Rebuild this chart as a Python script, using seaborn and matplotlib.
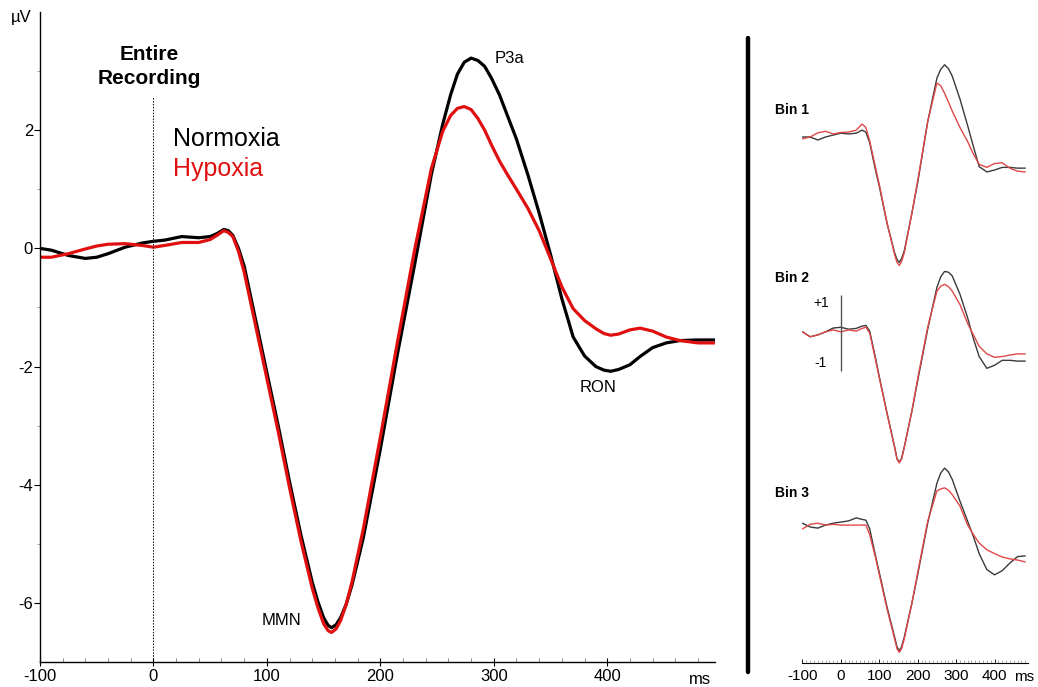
import matplotlib
matplotlib.use("Agg")
import matplotlib.pyplot as plt
from matplotlib.lines import Line2D
from matplotlib.ticker import MultipleLocator, FixedLocator
import seaborn as sns

# ---- main panel (entire recording), µV vs ms ----
t_main = [-100, -90, -75, -60, -50, -40, -25, -10, 0, 10, 25, 40, 50, 56, 62, 66, 70, 75,
          80, 90, 100, 110, 120, 130, 140, 145, 150, 154, 157, 161, 165, 170, 175, 185,
          200, 215, 230, 245, 255, 262, 268, 274, 280, 286, 292, 298, 305, 312, 320, 330,
          340, 350, 360, 370, 380, 390, 397, 403, 410, 420, 429, 440, 452, 464, 480, 495]
normoxia = [0.0, -0.03, -0.12, -0.17, -0.15, -0.09, 0.02, 0.09, 0.12, 0.14, 0.2, 0.18, 0.2,
            0.25, 0.32, 0.3, 0.22, 0.0, -0.3, -1.2, -2.1, -3.0, -3.95, -4.85, -5.65, -5.98,
            -6.25, -6.38, -6.42, -6.37, -6.25, -6.02, -5.7, -4.9, -3.4, -1.8, -0.3, 1.25,
            2.1, 2.6, 2.95, 3.15, 3.22, 3.18, 3.08, 2.88, 2.6, 2.25, 1.85, 1.25, 0.6, -0.1,
            -0.85, -1.5, -1.82, -2.0, -2.06, -2.08, -2.05, -1.97, -1.83, -1.68, -1.6, -1.56,
            -1.55, -1.55]
hypoxia = [-0.15, -0.15, -0.09, -0.01, 0.04, 0.07, 0.08, 0.05, 0.02, 0.05, 0.1, 0.1, 0.15,
           0.22, 0.3, 0.27, 0.2, -0.05, -0.4, -1.3, -2.2, -3.1, -4.05, -4.95, -5.75, -6.08,
           -6.35, -6.47, -6.5, -6.44, -6.3, -6.02, -5.65, -4.75, -3.2, -1.6, -0.05, 1.35,
           1.98, 2.25, 2.37, 2.4, 2.35, 2.2, 2.0, 1.75, 1.48, 1.25, 1.0, 0.68, 0.3, -0.17,
           -0.65, -1.02, -1.22, -1.36, -1.44, -1.47, -1.45, -1.38, -1.35, -1.4, -1.5, -1.56,
           -1.6, -1.6]

# ---- three time bins (small panels) ----
t_bin = [-100, -80, -60, -40, -20, 0, 20, 40, 55, 65, 75, 90, 100, 120, 140, 146, 152, 158,
         165, 185, 200, 226, 250, 260, 270, 280, 290, 310, 330, 345, 360, 380, 400, 420,
         440, 460, 480]
bin1_norm = [0.0, 0.0, -0.08, 0.0, 0.05, 0.1, 0.08, 0.1, 0.18, 0.13, -0.15, -0.87, -1.3,
             -2.27, -3.05, -3.22, -3.3, -3.2, -3.0, -2.0, -1.2, 0.4, 1.55, 1.78, 1.9, 1.8,
             1.6, 1.0, 0.3, -0.25, -0.78, -0.92, -0.87, -0.8, -0.8, -0.82, -0.82]
bin1_hyp = [-0.05, 0.0, 0.11, 0.15, 0.08, 0.12, 0.13, 0.18, 0.34, 0.25, -0.1, -0.8, -1.25,
            -2.25, -3.1, -3.3, -3.38, -3.28, -3.05, -2.0, -1.15, 0.4, 1.42, 1.35, 1.15,
            0.92, 0.68, 0.25, -0.12, -0.45, -0.72, -0.8, -0.7, -0.68, -0.82, -0.9, -0.92]
bin2_norm = [0.03, -0.1, -0.05, 0.03, 0.13, 0.15, 0.1, 0.12, 0.18, 0.2, 0.05, -0.65, -1.15,
             -2.1, -3.0, -3.3, -3.4, -3.3, -3.0, -2.05, -1.25, 0.1, 1.2, 1.48, 1.62, 1.6,
             1.5, 1.02, 0.4, -0.15, -0.62, -0.93, -0.85, -0.72, -0.72, -0.74, -0.74]
bin2_hyp = [0.03, -0.1, -0.05, 0.03, 0.08, 0.03, 0.08, 0.05, 0.12, 0.15, 0.0, -0.7, -1.18,
            -2.12, -3.02, -3.32, -3.42, -3.32, -3.02, -2.05, -1.2, 0.15, 1.1, 1.23, 1.28,
            1.22, 1.1, 0.75, 0.25, -0.05, -0.35, -0.55, -0.64, -0.62, -0.58, -0.55, -0.55]
bin3_norm = [0.1, 0.0, -0.03, 0.05, 0.1, 0.13, 0.16, 0.24, 0.2, 0.18, -0.05, -0.75, -1.2,
             -2.1, -2.9, -3.15, -3.26, -3.15, -2.9, -2.0, -1.25, 0.1, 1.15, 1.42, 1.55, 1.45,
             1.25, 0.68, 0.15, -0.25, -0.7, -1.12, -1.26, -1.15, -0.95, -0.78, -0.76]
bin3_hyp = [-0.05, 0.07, 0.1, 0.05, 0.07, 0.05, 0.05, 0.05, 0.05, 0.05, -0.2, -0.8, -1.25,
            -2.15, -2.95, -3.2, -3.3, -3.2, -2.95, -2.0, -1.2, 0.15, 0.95, 1.0, 1.03, 0.97,
            0.85, 0.55, 0.05, -0.2, -0.42, -0.6, -0.7, -0.79, -0.84, -0.87, -0.92]

bins = [("Bin 1", bin1_norm, bin1_hyp, 0.71),
        ("Bin 2", bin2_norm, bin2_hyp, 1.45),
        ("Bin 3", bin3_norm, bin3_hyp, 0.89)]

main_ticks = [-100, 0, 100, 200, 300, 400]
y_ticks = [-6, -4, -2, 0, 2]
peaks = [("P3a", 314, 3.22), ("RON", 392, -2.36), ("MMN", 113, -6.3)]
scale_bar = (-1, 1)

RED = "#e01010"

sns.set_style("white")
plt.rcParams["font.family"] = ["Liberation Sans", "DejaVu Sans"]
plt.rcParams.update({"text.color": "black", "xtick.color": "black",
                     "ytick.color": "black", "axes.labelcolor": "black"})

fig = plt.figure(figsize=(10.38, 6.87), dpi=100)

# main axes
ax = fig.add_axes([0.0385, 0.0364, 0.6503, 0.9461])
sns.lineplot(x=t_main, y=normoxia, ax=ax, color="black", lw=2.3)
sns.lineplot(x=t_main, y=hypoxia, ax=ax, color=RED, lw=2.3)
ax.set_xlim(-100, 495)
ax.set_ylim(-7, 4)
ax.axvline(0, ymin=0, ymax=(2.56 + 7) / 11, color="black", lw=0.7, ls=(0, (1.5, 1.5)))
for side in ("top", "right"):
    ax.spines[side].set_visible(False)
for side in ("left", "bottom"):
    ax.spines[side].set_color("black")
    ax.spines[side].set_linewidth(1.0)
ax.xaxis.set_major_locator(FixedLocator(main_ticks))
ax.xaxis.set_minor_locator(MultipleLocator(20))
ax.yaxis.set_major_locator(FixedLocator(y_ticks))
ax.yaxis.set_minor_locator(FixedLocator([-5, -3, -1, 1, 3]))
ax.tick_params(axis="x", which="major", direction="inout", length=6, width=0.8,
               labelsize=12, pad=2, bottom=True)
ax.tick_params(axis="x", which="minor", direction="in", length=3, width=0.6,
               bottom=True, color="#777777")
ax.tick_params(axis="y", which="major", direction="out", length=4, width=0.8,
               labelsize=12, pad=1, left=True)
ax.tick_params(axis="y", which="minor", direction="out", length=2, width=0.6,
               left=True, color="#999999")
ax.set_xticklabels([str(v) for v in main_ticks])
ax.set_yticklabels([str(v) for v in y_ticks])
ax.text(482, -7.29, "ms", ha="center", va="center", fontsize=12)
ax.text(-0.012, 0.992, "µV", transform=ax.transAxes, ha="right", va="center", fontsize=12)
ax.text(-4, 3.08, "Entire\nRecording", ha="center", va="center", fontsize=15,
        fontweight="bold", linespacing=1.3)
ax.text(17, 1.85, "Normoxia", ha="left", va="center", fontsize=18, color="black")
ax.text(17, 1.35, "Hypoxia", ha="left", va="center", fontsize=18, color=RED)
for name, px, py in peaks:
    ax.text(px, py, name, ha="center", va="center", fontsize=12)

# separator between the panels
fig.add_artist(Line2D([748 / 1038, 748 / 1038], [1 - 38 / 687, 1 - 672 / 687],
                      transform=fig.transFigure, color="black", lw=3.2))

# bin panels
bottoms = [0.6026, 0.3173, 0.0349]
for (label, norm, hyp, label_y), b in zip(bins, bottoms):
    bx = fig.add_axes([0.7731, b, 0.2172, 0.3197])
    sns.lineplot(x=t_bin, y=norm, ax=bx, color="#3a3a3a", lw=1.0)
    sns.lineplot(x=t_bin, y=hyp, ax=bx, color="#e04848", lw=1.0)
    bx.set_xlim(-100, 487)
    bx.set_ylim(-3.58, 2.2)
    bx.patch.set_alpha(0)
    for side in ("top", "right", "left", "bottom"):
        bx.spines[side].set_visible(False)
    bx.set_yticks([])
    bx.text(-0.12, label_y, label, transform=bx.get_yaxis_transform(),
            ha="left", va="center", fontsize=10, fontweight="bold")
    if label == "Bin 2":
        bx.vlines(0, scale_bar[0], scale_bar[1], color="#555555", lw=1.0)
        bx.text(-52, scale_bar[1] - 0.2, "+1", ha="center", va="center", fontsize=10)
        bx.text(-52, scale_bar[0] + 0.2, "-1", ha="center", va="center", fontsize=10)
    if label == "Bin 3":
        bx.spines["bottom"].set_visible(True)
        bx.spines["bottom"].set_color("black")
        bx.spines["bottom"].set_linewidth(0.8)
        bx.xaxis.set_major_locator(FixedLocator(main_ticks))
        bx.xaxis.set_minor_locator(MultipleLocator(10))
        bx.tick_params(axis="x", which="major", direction="in", length=3, width=0.6,
                       labelsize=11, pad=4, bottom=True)
        bx.tick_params(axis="x", which="minor", direction="in", length=2, width=0.5,
                       bottom=True, color="#888888")
        bx.set_xticklabels([str(v) for v in main_ticks])
        bx.text(478, -3.95, "ms", ha="center", va="center", fontsize=11)
    else:
        bx.set_xticks([])

fig.savefig("out.png", dpi=100)
